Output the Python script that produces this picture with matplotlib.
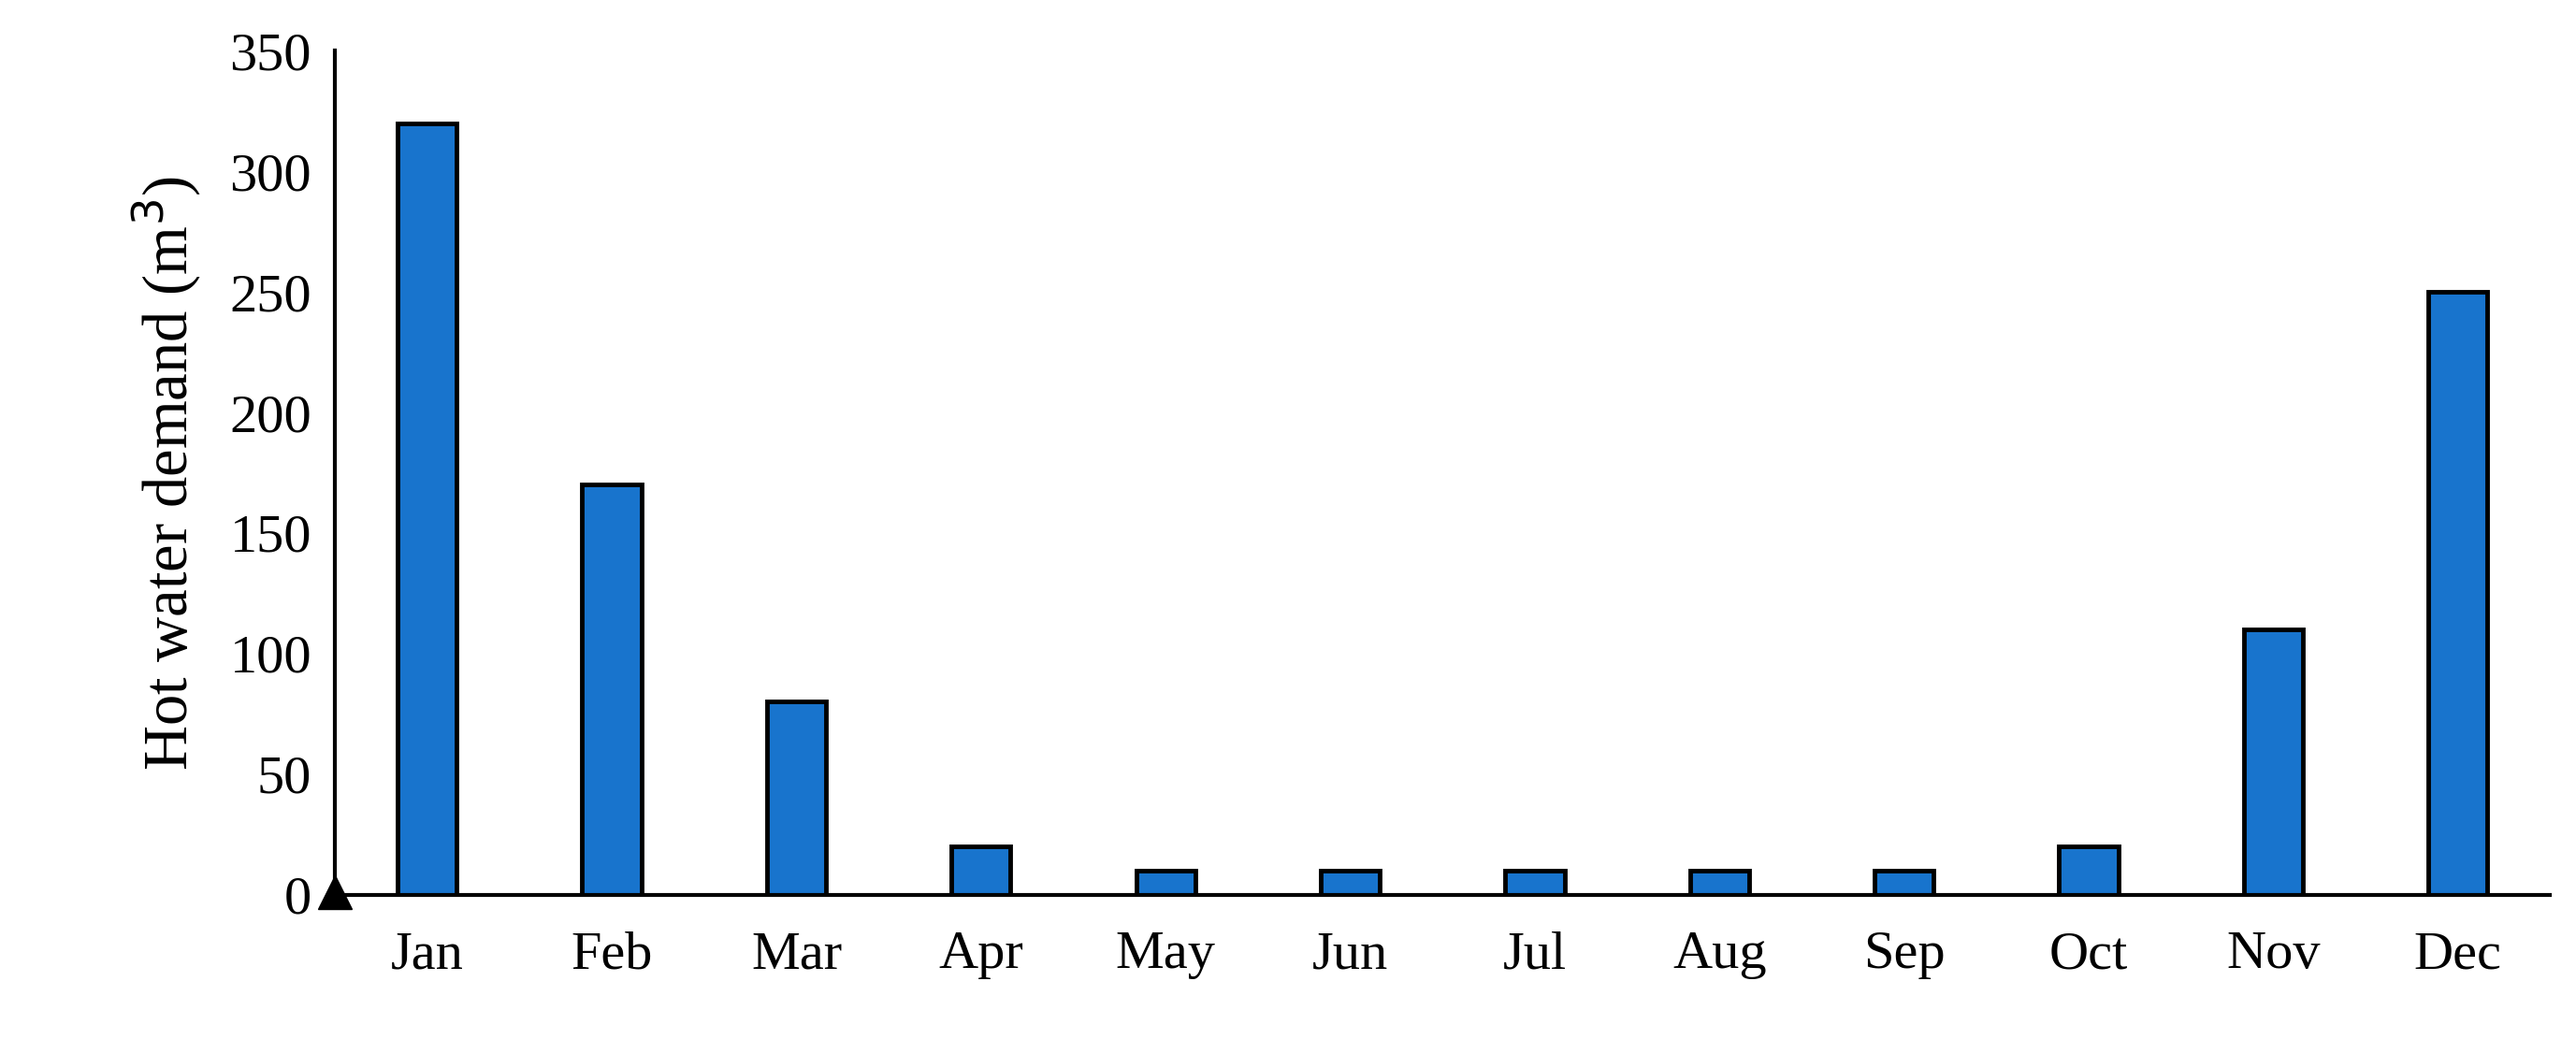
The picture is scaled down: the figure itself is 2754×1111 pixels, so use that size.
import matplotlib.pyplot as plt

months = ["Jan", "Feb", "Mar", "Apr", "May", "Jun",
          "Jul", "Aug", "Sep", "Oct", "Nov", "Dec"]
demand = [320, 170, 80, 20, 10, 10, 10, 10, 10, 20, 110, 250]
y_ticks = [0, 50, 100, 150, 200, 250, 300, 350]

plt.rcParams["font.family"] = ["Liberation Serif", "DejaVu Serif"]

fig = plt.figure(figsize=(27.54, 11.11), dpi=100)
ax = fig.add_axes([0.130, 0.139, 0.860, 0.812])

ax.bar(
    range(len(months)),
    demand,
    width=0.32,
    color="#1874CD",
    edgecolor="black",
    linewidth=3.5
)

ax.set_xlim(-0.5, 11.5)
ax.set_ylim(0, 350)
ax.set_xticks(range(len(months)))
ax.set_xticklabels(months)
ax.set_yticks(y_ticks)
ax.tick_params(axis="both", length=0, labelsize=42, pad=18)
ax.tick_params(axis="x", pad=28)

for side in ["top", "right"]:
    ax.spines[side].set_visible(False)
for side in ["left", "bottom"]:
    ax.spines[side].set_linewidth(3)

# arrow head on y axis
ax.plot(0, 1.0, "^k", markersize=26, transform=ax.get_yaxis_transform(),
        clip_on=False)

ax.set_ylabel("Hot water demand (m$^3$)", fontsize=48, labelpad=20)

fig.savefig("out.png", dpi=100)
